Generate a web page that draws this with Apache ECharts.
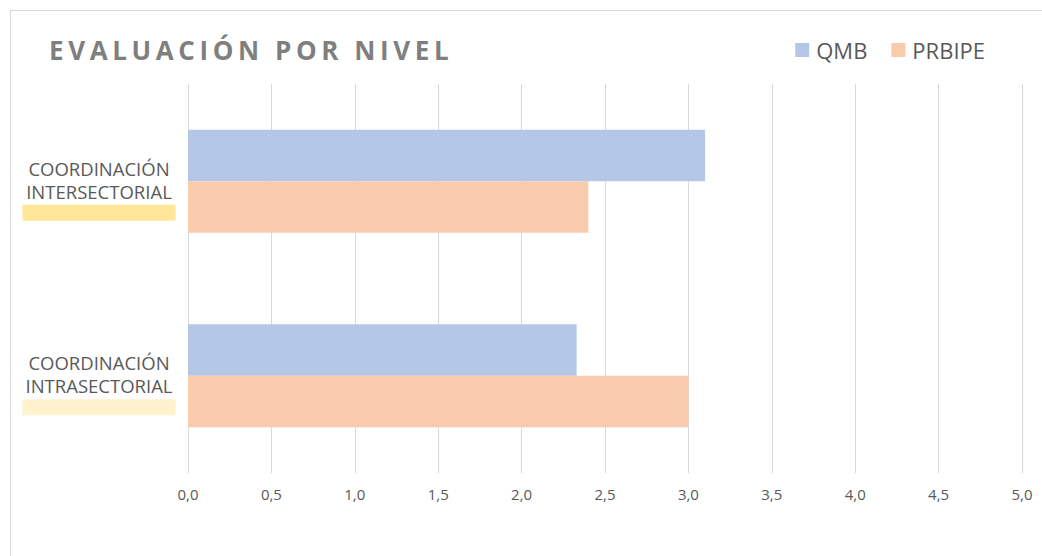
<!DOCTYPE html>
<html>
<head>
<meta charset="utf-8">
<script src="https://cdn.jsdelivr.net/npm/echarts@6/dist/echarts.min.js"></script>
<style>
  html, body { margin: 0; padding: 0; background: #fff; }
  #main { width: 1042px; height: 556px; }
  /* el título lleva espaciado entre letras */
  #main text[style*="26px"] { letter-spacing: 4.6px; }
</style>
</head>
<body>
<div id="main"></div>
<script>
// categorias (de arriba hacia abajo)
var categories = ['COORDINACIÓN\nINTERSECTORIAL', 'COORDINACIÓN\nINTRASECTORIAL'];
var qmb = [3.1, 2.33];
var prbipe = [2.4, 3.0];
var highlightColors = ['#FFE699', '#FFF2CC'];

var myChart = echarts.init(document.getElementById('main'), null, { renderer: 'svg' });

var option = {
  backgroundColor: '#fff',
  textStyle: { fontFamily: 'Open Sans' },
  title: {
    text: 'EVALUACIÓN POR NIVEL',
    left: 44,
    top: 32,
    textStyle: {
      color: '#7F7F7F',
      fontSize: 26,
      fontWeight: 'bold',
      fontFamily: 'Open Sans'
    }
  },
  legend: {
    data: ['QMB', 'PRBIPE'],
    right: 52,
    top: 34,
    icon: 'rect',
    itemWidth: 14,
    itemHeight: 14,
    itemGap: 24,
    textStyle: { color: '#595959', fontSize: 22, fontFamily: 'Open Sans', padding: [0, 0, 0, 2] }
  },
  graphic: [
    {
      type: 'rect',
      shape: { x: 10.5, y: 10.5, width: 1200, height: 700 },
      style: { fill: 'none', stroke: '#D9D9D9', lineWidth: 1 },
      silent: true
    }
  ],
  grid: { left: 188, right: 20, top: 84, bottom: 83, containLabel: false },
  xAxis: {
    type: 'value',
    min: 0,
    max: 5,
    interval: 0.5,
    axisLine: { show: false },
    axisTick: { show: false },
    splitLine: { lineStyle: { color: '#D9D9D9', width: 1 } },
    axisLabel: {
      margin: 13,
      color: '#595959',
      fontSize: 15,
      fontFamily: 'Open Sans',
      formatter: function (v) { return v.toFixed(1).replace('.', ','); }
    }
  },
  yAxis: {
    type: 'category',
    inverse: true,
    data: categories,
    axisLine: { show: false },
    axisTick: { show: false },
    axisLabel: {
      margin: 89,
      align: 'center',
      padding: [17, 0, 0, 0],
      formatter: function (v, i) {
        return v.split('\n').map(function (s) { return '{t|' + s + '}'; }).join('\n') + '\n{h' + i + '|}';
      },
      rich: {
        t: { color: '#595959', fontSize: 18.5, lineHeight: 23, fontFamily: 'Open Sans' },
        h0: { width: 153, height: 16, lineHeight: 20, backgroundColor: highlightColors[0] },
        h1: { width: 153, height: 16, lineHeight: 20, backgroundColor: highlightColors[1] }
      }
    }
  },
  series: [
    {
      name: 'QMB',
      type: 'bar',
      data: qmb,
      barGap: '0%',
      barCategoryGap: '47%',
      itemStyle: { color: '#B4C7E7' }
    },
    {
      name: 'PRBIPE',
      type: 'bar',
      data: prbipe,
      itemStyle: { color: '#F8CBAD' }
    }
  ]
};

myChart.setOption(option);
</script>
</body>
</html>
